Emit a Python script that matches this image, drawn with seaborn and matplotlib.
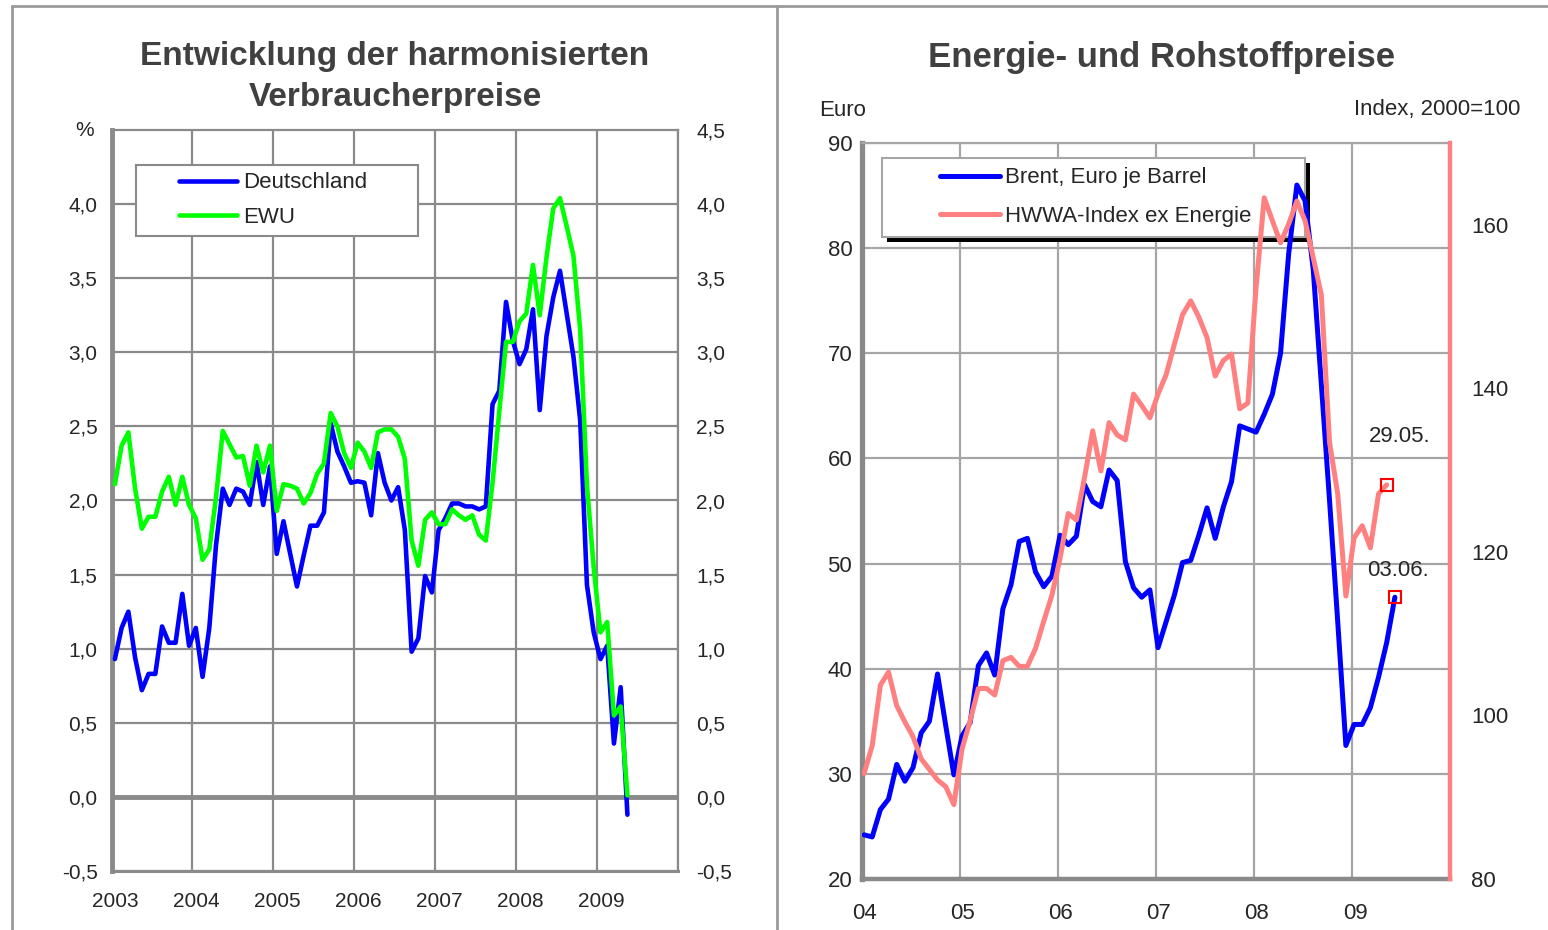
import numpy as np
import pandas as pd
import matplotlib
matplotlib.use("Agg")
import matplotlib.pyplot as plt
import seaborn as sns
from matplotlib.lines import Line2D
from matplotlib.patches import Rectangle
from matplotlib.legend_handler import HandlerLine2D

#============================= DATA ==============================

# HVPI, Veraenderung gg. Vorjahr in %, monatlich ab Jan 2003
deutschland = [0.93, 1.14, 1.25, 0.94, 0.72, 0.83, 0.83, 1.15, 1.04, 1.04, 1.37, 1.02,
               1.14, 0.81, 1.14, 1.70, 2.08, 1.97, 2.08, 2.06, 1.97, 2.26, 1.97, 2.23,
               1.64, 1.86, 1.64, 1.42, 1.63, 1.83, 1.83, 1.92, 2.52, 2.33, 2.23, 2.12,
               2.13, 2.12, 1.90, 2.32, 2.12, 2.00, 2.09, 1.80, 0.98, 1.07, 1.49, 1.38,
               1.80, 1.88, 1.98, 1.98, 1.96, 1.96, 1.94, 1.96, 2.65, 2.74, 3.34, 3.08,
               2.92, 3.02, 3.29, 2.61, 3.11, 3.37, 3.55, 3.26, 2.97, 2.54, 1.43, 1.11,
               0.93, 1.02, 0.36, 0.74, -0.12]
ewu = [2.11, 2.37, 2.46, 2.08, 1.81, 1.89, 1.89, 2.06, 2.16, 1.97, 2.16, 1.97,
       1.88, 1.60, 1.67, 2.02, 2.47, 2.38, 2.29, 2.30, 2.10, 2.37, 2.19, 2.37,
       1.93, 2.11, 2.10, 2.08, 1.98, 2.05, 2.18, 2.25, 2.59, 2.50, 2.32, 2.22,
       2.39, 2.33, 2.22, 2.46, 2.48, 2.48, 2.43, 2.28, 1.73, 1.56, 1.87, 1.92,
       1.84, 1.84, 1.94, 1.90, 1.87, 1.90, 1.77, 1.73, 2.12, 2.60, 3.07, 3.07,
       3.21, 3.26, 3.59, 3.25, 3.64, 3.97, 4.04, 3.85, 3.65, 3.15, 2.10, 1.55,
       1.11, 1.18, 0.55, 0.61, 0.01]

# Brent in Euro je Barrel, monatlich ab Jan 2004 (letzter Wert 03.06.)
brent = [24.2, 24.0, 26.6, 27.6, 30.9, 29.3, 30.6, 33.9, 35.0, 39.5, 34.6, 29.9,
         33.6, 34.9, 40.3, 41.5, 39.4, 45.7, 48.0, 52.1, 52.4, 49.2, 47.8, 48.8,
         52.7, 51.8, 52.6, 57.5, 55.9, 55.4, 58.9, 57.9, 50.2, 47.7, 46.8, 47.5,
         42.0, 44.5, 47.0, 50.1, 50.3, 52.7, 55.3, 52.4, 55.4, 57.8, 63.1, 62.8,
         62.5, 64.2, 66.1, 70.0, 79.5, 86.0, 84.5, 78.0, 67.0, 56.0, 44.5, 32.7,
         34.7, 34.7, 36.3, 39.2, 42.5, 46.8]
# HWWA-Index ex Energie, 2000=100, monatlich ab Jan 2004 (letzter Wert 29.05.)
hwwa = [92.9, 96.3, 103.7, 105.3, 101.2, 99.2, 97.4, 94.7, 93.4, 92.1, 91.3, 89.1,
        95.9, 99.4, 103.3, 103.3, 102.5, 106.7, 107.1, 106.0, 106.0, 108.2, 111.5, 114.7,
        119.2, 124.7, 123.9, 129.1, 134.8, 129.9, 135.8, 134.3, 133.7, 139.3, 137.9, 136.4,
        139.3, 141.7, 145.4, 149.0, 150.7, 148.7, 146.2, 141.5, 143.4, 144.2, 137.5, 138.2,
        152.3, 163.3, 160.5, 157.8, 160.1, 162.9, 160.5, 156.0, 151.4, 133.4, 127.1, 114.6,
        121.7, 123.2, 120.5, 127.1, 128.2]

years_left = [2003, 2004, 2005, 2006, 2007, 2008, 2009]
years_right = [2004, 2005, 2006, 2007, 2008, 2009]
labels_right = ["04", "05", "06", "07", "08", "09"]
ticks_pct = [-0.5, 0.0, 0.5, 1.0, 1.5, 2.0, 2.5, 3.0, 3.5, 4.0, 4.5]
ticks_euro = [20, 30, 40, 50, 60, 70, 80, 90]
ticks_index = [80, 100, 120, 140, 160]

#============================= STYLE ==============================

sns.set_style("white")
plt.rcParams['font.family'] = ['Liberation Sans', 'DejaVu Sans']

W, H = 1548, 930
def fx(px): return px / W
def fy(py): return 1 - py / H

def komma(v):
    return f"{v:.1f}".replace(".", ",")

class ShiftedLine(HandlerLine2D):
    # legend line sits to the right inside the handle area (like Excel)
    def __init__(self, shift, **kw):
        super().__init__(**kw)
        self.shift = shift
    def create_artists(self, legend, orig_handle, xdescent, ydescent, width, height, fontsize, trans):
        s = width * self.shift
        return super().create_artists(legend, orig_handle, xdescent - s, ydescent, width - s,
                                      height, fontsize, trans)

fig = plt.figure(figsize=(15.48, 9.30), dpi=100)

# panel frames
for xs, ys in [([fx(12), fx(1548)], [fy(6), fy(6)]),
               ([fx(12), fx(12)], [fy(6), 0]),
               ([fx(777), fx(777)], [fy(6), 0])]:
    fig.add_artist(Line2D(xs, ys, transform=fig.transFigure, color="#9a9a9a", lw=2))

#============================= LEFT PANEL ==============================

ax1 = fig.add_axes([fx(111.5), fy(871), fx(678) - fx(111.5), fy(130) - fy(871)])
m = pd.date_range("2003-01-01", periods=len(deutschland), freq="MS")
df_left = pd.DataFrame({"x": m.year + (m.month - 0.5) / 12,
                        "Deutschland": deutschland, "EWU": ewu})

sns.lineplot(data=df_left, x="x", y="Deutschland", ax=ax1, color="#0000ff", lw=3.3,
             label="Deutschland", sort=False, errorbar=None, zorder=6)
sns.lineplot(data=df_left, x="x", y="EWU", ax=ax1, color="#00ff00", lw=3.3,
             label="EWU", sort=False, errorbar=None, zorder=6)

gray1 = "#8a8a8a"
ax1.set_xlim(2003, 2010)
ax1.set_ylim(-0.5, 4.5)
ax1.set_xticks(range(2003, 2011))
ax1.set_xticklabels([])
ax1.set_xticks([y + 0.05 for y in years_left], minor=True)
ax1.set_xticklabels([str(y) for y in years_left], minor=True)
ax1.set_yticks(ticks_pct[:-1])
ax1.set_yticklabels([komma(v) for v in ticks_pct[:-1]])
ax1.tick_params(axis="x", which="both", length=0, pad=15, labelsize=15)
ax1.tick_params(axis="y", length=0, pad=10, labelsize=15)
ax1.grid(True, which="major", color=gray1, lw=1.6)
ax1.axhline(0, color=gray1, lw=3.5, zorder=2)
ax1.set_xlabel("")
ax1.set_ylabel("")
for side, lw in [("left", 3.5), ("bottom", 2.2), ("top", 1.6), ("right", 1.6)]:
    ax1.spines[side].set_color(gray1)
    ax1.spines[side].set_linewidth(lw)

ax1r = ax1.twinx()
ax1r.set_ylim(-0.5, 4.5)
ax1r.set_yticks(ticks_pct)
ax1r.set_yticklabels([komma(v) for v in ticks_pct])
ax1r.tick_params(axis="y", length=0, pad=13, labelsize=15)
for side in ["left", "top", "bottom", "right"]:
    ax1r.spines[side].set_visible(False)

leg1 = ax1.legend(loc="upper left", bbox_to_anchor=(0.0432, 0.853, 0.4978, 0.1), mode="expand",
                  fontsize=16, frameon=True, fancybox=False, edgecolor=gray1, framealpha=1,
                  borderpad=0.34, labelspacing=0.62, handlelength=4.2, handletextpad=0.27,
                  borderaxespad=0, handler_map={Line2D: ShiftedLine(0.384)})
leg1.get_frame().set_linewidth(1.5)

fig.text(fx(395), fy(77), "Entwicklung der harmonisierten\nVerbraucherpreise", ha="center",
         va="center", fontsize=24, fontweight="bold", color="#404040", linespacing=1.45)
fig.text(fx(85), fy(131), "%", ha="center", va="center", fontsize=15)

#============================= RIGHT PANEL ==============================

ax2 = fig.add_axes([fx(862), fy(879), fx(1450) - fx(862), fy(143) - fy(879)])
mb = pd.date_range("2004-01-01", periods=len(brent), freq="MS")
xb = mb.year + (mb.month - 0.75) / 12
mh = pd.date_range("2004-01-01", periods=len(hwwa), freq="MS")
xh = mh.year + (mh.month - 0.75) / 12
df_brent = pd.DataFrame({"x": xb, "Brent": brent})
df_hwwa = pd.DataFrame({"x": xh, "HWWA": hwwa})

sns.lineplot(data=df_brent, x="x", y="Brent", ax=ax2, color="#0000ff", lw=3.6,
             label="Brent, Euro je Barrel", sort=False, errorbar=None, zorder=6)
ax2.plot(xb[-1:], brent[-1:], ls="none", marker="s", ms=8, mfc="none", mec="#ff0000", mew=1.5, zorder=7)
ax2.annotate("03.06.", xy=(xb[-1], brent[-1]), xytext=(2, 19), textcoords="offset points",
             ha="center", va="center", fontsize=16)

ax2r = ax2.twinx()
sns.lineplot(data=df_hwwa, x="x", y="HWWA", ax=ax2r, color="#ff8080", lw=3.6,
             label="HWWA-Index ex Energie", sort=False, errorbar=None, zorder=6)
ax2r.plot(xh[-1:], hwwa[-1:], ls="none", marker="s", ms=8, mfc="none", mec="#ff0000", mew=1.5, zorder=7)
ax2r.annotate("29.05.", xy=(xh[-1], hwwa[-1]), xytext=(9, 35), textcoords="offset points",
              ha="center", va="center", fontsize=16)

gray2 = "#a6a6a6"
ax2.set_xlim(2004, 2010)
ax2.set_ylim(20, 90)
ax2.set_xticks(range(2004, 2011))
ax2.set_xticklabels([])
ax2.set_xticks([y + 0.03 for y in years_right], minor=True)
ax2.set_xticklabels(labels_right, minor=True)
ax2.set_yticks(ticks_euro)
ax2.set_yticklabels([str(v) for v in ticks_euro])
ax2.tick_params(axis="x", which="major", length=5, width=3, color="#8a8a8a", direction="out")
ax2.tick_params(axis="x", which="minor", length=0, pad=17, labelsize=16)
ax2.tick_params(axis="y", length=0, pad=7, labelsize=16)
ax2.grid(True, which="major", color=gray2, lw=1.6)
ax2.set_xlabel("")
ax2.set_ylabel("")
ax2.spines["left"].set_color("#8a8a8a")
ax2.spines["left"].set_linewidth(3.8)
ax2.spines["bottom"].set_color("#8a8a8a")
ax2.spines["bottom"].set_linewidth(3.2)
ax2.spines["top"].set_color(gray2)
ax2.spines["top"].set_linewidth(1.6)
ax2.spines["right"].set_visible(False)

ax2r.set_ylim(80, 170)
ax2r.set_yticks(ticks_index)
ax2r.set_yticklabels([str(v) for v in ticks_index])
ax2r.tick_params(axis="y", length=0, pad=15, labelsize=16)
ax2r.set_ylabel("")
for side in ["left", "top", "bottom"]:
    ax2r.spines[side].set_visible(False)
ax2r.spines["right"].set_color("#ff8080")
ax2r.spines["right"].set_linewidth(3.2)

h1, l1 = ax2.get_legend_handles_labels()
h2, l2 = ax2r.get_legend_handles_labels()
if ax2r.get_legend() is not None:
    ax2r.get_legend().remove()
leg2 = ax2.legend(h1 + h2, l1 + l2, loc="upper left", bbox_to_anchor=(0.034, 0.88, 0.7194, 0.1),
                  mode="expand", fontsize=16, frameon=True, fancybox=False, edgecolor=gray2,
                  framealpha=1, borderpad=0.44, labelspacing=0.8, handlelength=4.85,
                  handletextpad=0.24, borderaxespad=0, handler_map={Line2D: ShiftedLine(0.443)})
leg2.get_frame().set_linewidth(1.5)

# black drop shadow behind the legend box
fig.canvas.draw()
bb = leg2.get_window_extent().transformed(fig.transFigure.inverted())
ax2.add_patch(Rectangle((bb.x0 + fx(5), bb.y0 - 5 / H), bb.width, bb.height,
                        transform=fig.transFigure, facecolor="black", edgecolor="none",
                        zorder=4.9, clip_on=False))

fig.text(fx(1162), fy(57), "Energie- und Rohstoffpreise", ha="center", va="center",
         fontsize=25, fontweight="bold", color="#404040")
fig.text(fx(843), fy(111), "Euro", ha="center", va="center", fontsize=16)
fig.text(fx(1437), fy(110), "Index, 2000=100", ha="center", va="center", fontsize=16)

fig.savefig("out.png", dpi=100)
